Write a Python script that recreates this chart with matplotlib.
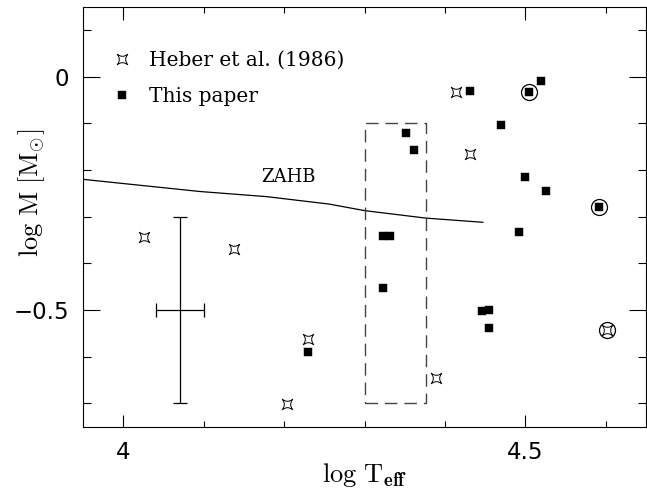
import matplotlib
matplotlib.use("Agg")
import matplotlib.pyplot as plt
from matplotlib.path import Path
from matplotlib.ticker import MultipleLocator
import numpy as np

plt.rcParams['mathtext.fontset'] = 'cm'

# Heber et al. (1986)
heber_x = [4.026, 4.137, 4.230, 4.204, 4.389, 4.414, 4.431, 4.602]
heber_y = [-0.344, -0.370, -0.562, -0.701, -0.646, -0.032, -0.166, -0.542]

# This paper
paper_x = [4.230, 4.323, 4.331, 4.323, 4.352, 4.362, 4.431, 4.470, 4.505,
           4.519, 4.499, 4.525, 4.591, 4.492, 4.446, 4.455, 4.455]
paper_y = [-0.591, -0.341, -0.341, -0.452, -0.121, -0.158, -0.030, -0.103, -0.033,
           -0.009, -0.214, -0.244, -0.280, -0.332, -0.502, -0.500, -0.539]

# circled objects
circ_x = [4.505, 4.591, 4.602]
circ_y = [-0.033, -0.280, -0.542]

# ZAHB
zahb_x = [3.95, 4.095, 4.178, 4.256, 4.300, 4.376, 4.447]
zahb_y = [-0.220, -0.246, -0.257, -0.273, -0.287, -0.303, -0.312]

# dashed box
box_x = [4.300, 4.376]
box_y = [-0.70, -0.10]

# typical error bar
err_x, err_y = 4.070, -0.50
err_dx, err_dy = 0.03, 0.20

# star marker
c = 0.2
verts = [(1, 1), (0, c), (-1, 1), (-c, 0), (-1, -1), (0, -c), (1, -1), (c, 0), (1, 1), (1, 1)]
codes = [Path.MOVETO, Path.CURVE3, Path.CURVE3, Path.CURVE3, Path.CURVE3,
         Path.CURVE3, Path.CURVE3, Path.CURVE3, Path.CURVE3, Path.CLOSEPOLY]
star = Path(verts, codes)

fig = plt.figure(figsize=(6.47, 4.93), dpi=100)
ax = fig.add_axes([83.3 / 647, 1 - 426.7 / 493, (646 - 83.3) / 647, (426.7 - 6.7) / 493])

ax.plot(zahb_x, zahb_y, color='black', lw=0.9)
ax.text(4.205, -0.214, 'ZAHB', fontsize=13, ha='center', va='center',
        family='DejaVu Serif')

ax.plot([box_x[0], box_x[1], box_x[1], box_x[0], box_x[0]],
        [box_y[0], box_y[0], box_y[1], box_y[1], box_y[0]],
        color='#444444', lw=1.0, dashes=(9, 5))

ax.errorbar([err_x], [err_y], xerr=err_dx, yerr=err_dy, fmt='none',
            ecolor='black', elinewidth=0.9, capsize=4.7, capthick=0.9)

ax.plot(heber_x, heber_y, ls='none', marker=star, markersize=7.5,
        markerfacecolor='white', markeredgecolor='black', markeredgewidth=0.7,
        label='Heber et al. (1986)')
ax.plot(paper_x, paper_y, ls='none', marker='s', markersize=6.2,
        markerfacecolor='black', markeredgecolor='black', markeredgewidth=0.3,
        label='This paper')
ax.plot(circ_x, circ_y, ls='none', marker='o', markersize=11.5,
        markerfacecolor='none', markeredgecolor='black', markeredgewidth=0.9)

leg = ax.legend(loc='upper left', bbox_to_anchor=(0.051, 0.895), frameon=False,
                borderpad=0, borderaxespad=0, handlelength=1.0, handletextpad=0.84,
                labelspacing=0.86, numpoints=1, prop={'family': 'DejaVu Serif', 'size': 14.5})

ax.set_xlim(3.95, 4.65)
ax.set_ylim(-0.75, 0.15)
ax.xaxis.set_minor_locator(MultipleLocator(0.1))
ax.yaxis.set_minor_locator(MultipleLocator(0.1))
ax.set_xticks([4.0, 4.5])
ax.set_xticklabels(['4', '4.5'])
ax.set_yticks([0.0, -0.5])
ax.set_yticklabels(['0', '\u22120.5'])

ax.tick_params(axis='both', which='both', direction='in', top=True, right=True,
               width=0.8, labelsize=16.5)
ax.tick_params(axis='x', which='major', length=9, pad=10)
ax.tick_params(axis='x', which='minor', length=4.3)
ax.tick_params(axis='y', which='major', length=12, pad=10)
ax.tick_params(axis='y', which='minor', length=5.8)
for s in ax.spines.values():
    s.set_linewidth(0.8)

ax.set_xlabel(r'$\mathrm{log\ T}_{\mathbf{eff}}$', fontsize=19)
ax.set_ylabel(r'$\mathrm{log\ M\ [M}_{\odot}\mathrm{]}$', fontsize=19)
ax.xaxis.set_label_coords(0.5, -0.082)
ax.yaxis.set_label_coords(-0.065, 0.556)

fig.savefig('out.png', dpi=100)
